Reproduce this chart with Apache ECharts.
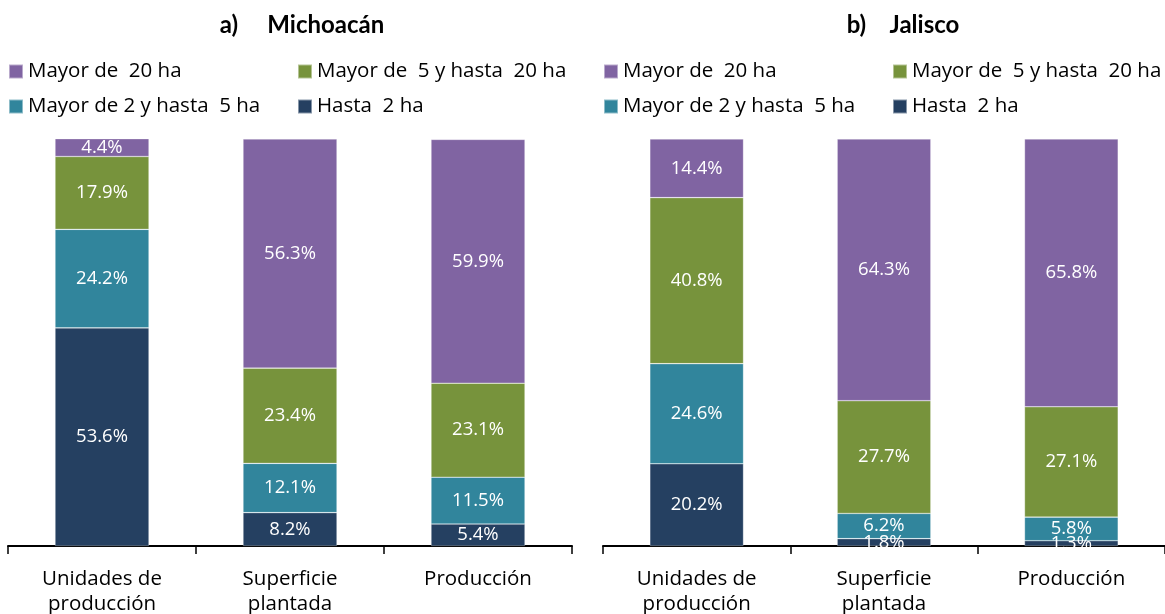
<!DOCTYPE html>
<html lang="es">
<head>
<meta charset="UTF-8">
<title>Michoacán y Jalisco</title>
<style>
  *{ margin:0; padding:0; }
  body{ background:#fff; }
  #chart{ width:1165px; height:614px; }
</style>
<script src="https://cdn.jsdelivr.net/npm/echarts@6/dist/echarts.min.js"></script>
</head>
<body>
<div id="chart"></div>
<script>
// categorias del eje x
var categorias = ['Unidades de\nproducción', 'Superficie\nplantada', 'Producción'];
var estratos = ['Mayor de  20 ha', 'Mayor de  5 y hasta  20 ha', 'Mayor de 2 y hasta  5 ha', 'Hasta  2 ha'];

// a) Michoacán (%)
var micHasta2 = [53.6, 8.2, 5.4];
var mic2a5 = [24.2, 12.1, 11.5];
var mic5a20 = [17.9, 23.4, 23.1];
var micMas20 = [4.4, 56.3, 59.9];

// b) Jalisco (%)
var jalHasta2 = [20.2, 1.8, 1.3];
var jal2a5 = [24.6, 6.2, 5.8];
var jal5a20 = [40.8, 27.7, 27.1];
var jalMas20 = [14.4, 64.3, 65.8];

var colores = {
  'Mayor de  20 ha': '#8064a2',
  'Mayor de  5 y hasta  20 ha': '#77933c',
  'Mayor de 2 y hasta  5 ha': '#31859c',
  'Hasta  2 ha': '#254061'
};
var fuente = '"Open Sans", sans-serif';

function serie(nombre, datos, idx) {
  return {
    name: nombre,
    type: 'bar',
    stack: 'p' + idx,
    xAxisIndex: idx,
    yAxisIndex: idx,
    barWidth: '50%',
    data: datos,
    itemStyle: { color: colores[nombre], borderColor: 'rgba(255,255,255,0.45)', borderWidth: 0.6 },
    label: {
      show: true,
      position: 'inside',
      color: '#fff',
      fontFamily: fuente,
      fontSize: 18.5,
      formatter: function (p) { return p.value.toFixed(1) + '%'; }
    }
  };
}

function ejeX(idx) {
  return {
    type: 'category',
    gridIndex: idx,
    data: categorias,
    boundaryGap: true,
    axisLine: { lineStyle: { color: '#000', width: 2 } },
    axisTick: { show: true, length: 8, lineStyle: { color: '#000', width: 1.5 } },
    axisLabel: { color: '#000', fontFamily: fuente, fontSize: 20.5, lineHeight: 25, margin: 21 }
  };
}

function ejeY(idx) {
  return { type: 'value', gridIndex: idx, min: 0, max: 100, show: false, splitLine: { show: false } };
}

// leyendas, una por elemento para fijar las columnas
var posLeyenda = [[8, 61], [297, 61], [8, 96], [297, 96]];
var leyendas = [];
[0, 595].forEach(function (dx) {
  estratos.forEach(function (nombre, i) {
    leyendas.push({
      data: [nombre],
      left: posLeyenda[i][0] + dx,
      top: posLeyenda[i][1],
      padding: 0,
      icon: 'rect',
      itemWidth: 14,
      itemHeight: 14,
      itemGap: 5,
      textStyle: { color: '#000', fontFamily: fuente, fontSize: 20.5 }
    });
  });
});

var chart = echarts.init(document.getElementById('chart'));
chart.setOption({
  animation: false,
  title: [
    { text: 'a)     Michoacán', left: 297, top: 8, textAlign: 'center',
      textStyle: { fontFamily: 'Lato, sans-serif', fontSize: 24, fontWeight: 'bold', color: '#000' } },
    { text: 'b)    Jalisco', left: 898, top: 8, textAlign: 'center',
      textStyle: { fontFamily: 'Lato, sans-serif', fontSize: 24, fontWeight: 'bold', color: '#000' } }
  ],
  legend: leyendas,
  grid: [
    { left: 8, width: 564, top: 139, height: 407, outerBoundsMode: 'none' },
    { left: 603, width: 562, top: 139, height: 407, outerBoundsMode: 'none' }
  ],
  xAxis: [ejeX(0), ejeX(1)],
  yAxis: [ejeY(0), ejeY(1)],
  series: [
    serie('Hasta  2 ha', micHasta2, 0),
    serie('Mayor de 2 y hasta  5 ha', mic2a5, 0),
    serie('Mayor de  5 y hasta  20 ha', mic5a20, 0),
    serie('Mayor de  20 ha', micMas20, 0),
    serie('Hasta  2 ha', jalHasta2, 1),
    serie('Mayor de 2 y hasta  5 ha', jal2a5, 1),
    serie('Mayor de  5 y hasta  20 ha', jal5a20, 1),
    serie('Mayor de  20 ha', jalMas20, 1)
  ]
});
</script>
</body>
</html>
